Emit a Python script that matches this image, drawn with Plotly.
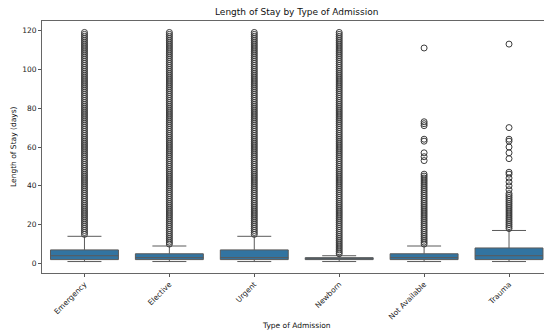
import plotly.graph_objects as go

categories = ["Emergency", "Elective", "Urgent", "Newborn", "Not Available", "Trauma"]
q1 = [2, 2, 2, 2, 2, 2]
median = [4, 3, 3, 2, 3, 4]
q3 = [7, 5, 7, 3, 5, 8]
lower_whisker = [1, 1, 1, 1, 1, 1]
upper_whisker = [14, 9, 14, 4, 9, 17]

# dense outlier columns: every integer day in the observed span
dense_outlier_span = {
    "Emergency": [15, 119],
    "Elective": [10, 119],
    "Urgent": [15, 119],
    "Newborn": [5, 119],
}
not_available_outliers = [10, 11, 12, 13, 14, 15, 16, 17, 18, 19, 20, 21, 22, 23, 24, 25, 26, 27, 28,
                          29, 30, 31, 32, 33, 34, 35, 36, 37, 38, 39, 40, 41, 42, 43, 44, 45, 46,
                          53, 55, 57, 63, 64, 71, 72, 73, 111]
trauma_outliers = [18, 19, 20, 21, 22, 23, 24, 25, 26, 27, 28, 29, 30, 31, 32, 33, 34, 35, 36,
                   38, 40, 42, 44, 46, 47, 54, 57, 60, 63, 64, 70, 113]

outliers = {c: list(range(a, b + 1)) for c, (a, b) in dense_outlier_span.items()}
outliers["Not Available"] = not_available_outliers
outliers["Trauma"] = trauma_outliers

BOX_FILL = "#3274A1"
LINE = "#5a5a5a"
FONT = "DejaVu Sans"

fig = go.Figure()
fig.add_trace(go.Box(
    x=categories, q1=q1, median=median, q3=q3,
    lowerfence=lower_whisker, upperfence=upper_whisker,
    width=0.8, whiskerwidth=0.5, fillcolor=BOX_FILL,
    line=dict(color=LINE, width=1), boxpoints=False, showlegend=False,
))

ox, oy = [], []
for c in categories:
    for v in outliers[c]:
        ox.append(c)
        oy.append(v)
fig.add_trace(go.Scatter(
    x=ox, y=oy, mode="markers", showlegend=False,
    marker=dict(symbol="circle-open", size=6, color="#3c3c3c", line=dict(width=1)),
))

fig.update_layout(
    width=544, height=333,
    margin=dict(l=42, r=0, t=21, b=60),
    plot_bgcolor="white", paper_bgcolor="white",
    font=dict(family=FONT, size=8, color="#222"),
    showlegend=False,
)
fig.update_xaxes(
    type="category", categoryorder="array", categoryarray=categories,
    range=[-0.5, 5.412], tickangle=-45, ticks="outside", ticklen=3,
    tickcolor="#555", showline=True, linecolor="#666", linewidth=1, mirror=True,
    showgrid=False, zeroline=False, tickfont=dict(size=7.5, family=FONT, color="#222"),
)
fig.update_yaxes(
    range=[-4.9, 124.9], tickvals=[0, 20, 40, 60, 80, 100, 120],
    ticks="outside", ticklen=3, tickcolor="#555", showline=True, linecolor="#666",
    linewidth=1, mirror=False, showgrid=False, zeroline=False,
    tickfont=dict(size=7.5, family=FONT, color="#222"),
)
W = 544 - 42
H = 333 - 21 - 60
def ann(text, px, py, size, angle=0):
    fig.add_annotation(text=text, x=(px - 42) / W, y=(333 - 60 - py) / H,
                       xref="paper", yref="paper", showarrow=False, textangle=angle,
                       xanchor="center", yanchor="middle",
                       font=dict(size=size, family=FONT, color="#111"))
ann("Length of Stay by Type of Admission", 296, 12, 9)
ann("Type of Admission", 296, 325, 7.5)
ann("Length of Stay (days)", 13, 147, 7.5, -90)

fig.write_html("out.html")
